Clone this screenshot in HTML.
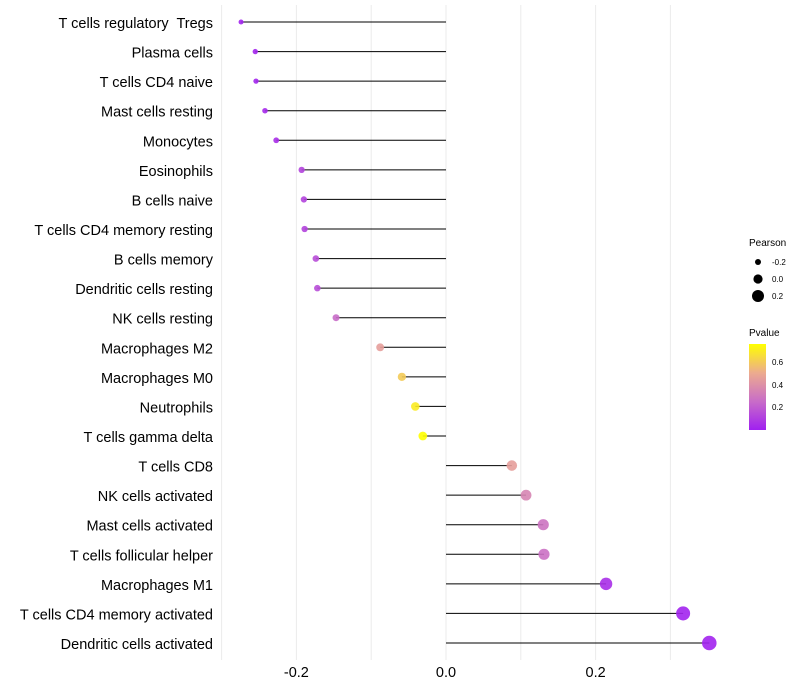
<!DOCTYPE html>
<html><head><meta charset="utf-8"><style>
body{margin:0;background:#fff;font-family:"Liberation Sans",sans-serif}
svg{display:block}
text{white-space:pre}
</style></head><body>
<svg id="chart" width="800" height="700" xmlns="http://www.w3.org/2000/svg">
<defs>
<linearGradient id="pg" x1="0" y1="1" x2="0" y2="0">
<stop offset="0" stop-color="#a020f0"/><stop offset="0.33" stop-color="#c86cc8"/><stop offset="0.66" stop-color="#ecaa90"/><stop offset="1" stop-color="#ffff00"/>
</linearGradient>
</defs>
<g id="grid"></g>
<g id="marks"></g>
<g id="ylabels"></g>
<g id="xlabels"></g>
<g font-size="10" fill="#000">
<text x="749" y="246">Pearson</text>
<circle cx="758" cy="262" r="3"/><text x="772" y="265" font-size="8">-0.2</text>
<circle cx="758" cy="279" r="4.6"/><text x="772" y="282" font-size="8">0.0</text>
<circle cx="758" cy="296" r="6"/><text x="772" y="299" font-size="8">0.2</text>
</g>
<g fill="#000">
<text x="749" y="336" font-size="10">Pvalue</text>
<rect x="749" y="344" width="17" height="86" fill="url(#pg)"/>
<text x="772" y="365" font-size="8">0.6</text>
<text x="772" y="388" font-size="8">0.4</text>
<text x="772" y="410" font-size="8">0.2</text>
</g>
</svg>
<script>
const categories=["T cells regulatory  Tregs","Plasma cells","T cells CD4 naive","Mast cells resting","Monocytes","Eosinophils","B cells naive","T cells CD4 memory resting","B cells memory","Dendritic cells resting","NK cells resting","Macrophages M2","Macrophages M0","Neutrophils","T cells gamma delta","T cells CD8","NK cells activated","Mast cells activated","T cells follicular helper","Macrophages M1","T cells CD4 memory activated","Dendritic cells activated"];
const pearson=[-0.274,-0.255,-0.254,-0.242,-0.227,-0.193,-0.190,-0.189,-0.174,-0.172,-0.147,-0.088,-0.059,-0.041,-0.031,0.088,0.107,0.130,0.131,0.214,0.317,0.352];
const pvalues=[0.01,0.02,0.02,0.03,0.05,0.12,0.12,0.12,0.15,0.15,0.25,0.45,0.6,0.7,0.76,0.45,0.35,0.28,0.27,0.05,0.01,0.01];
const xTicks=[-0.2,0.0,0.2];
const xTickLabels=["-0.2","0.0","0.2"];
const NS="http://www.w3.org/2000/svg";
const xs=v=>446+v*748;
const ys=i=>22+i*(621/21);
const rs=v=>4.6+v*7.6;
function col(p){
 const stops=[[0,[160,32,240]],[0.25,[200,108,200]],[0.5,[236,170,144]],[0.76,[255,255,0]]];
 p=Math.max(0,Math.min(0.76,p));
 for(let k=0;k<stops.length-1;k++){const a=stops[k],b=stops[k+1];
  if(p<=b[0]){const t=(p-a[0])/(b[0]-a[0]);return "rgb("+a[1].map((c,j)=>Math.round(c+(b[1][j]-c)*t)).join(",")+")";}}
 return "rgb(255,255,0)";
}
function mk(tag,attrs,parent){const e=document.createElementNS(NS,tag);for(const k in attrs)e.setAttribute(k,attrs[k]);parent.appendChild(e);return e;}
const grid=document.getElementById('grid');
[-0.3,-0.2,-0.1,0,0.1,0.2,0.3].forEach(v=>{
 const l=mk('line',{x1:xs(v),x2:xs(v),y1:5,y2:660,stroke:'#ebebeb','stroke-width':1},grid);
 
 
});
const marks=document.getElementById('marks'),yl=document.getElementById('ylabels'),xl=document.getElementById('xlabels');
categories.forEach((c,i)=>{
 const y=ys(i),v=pearson[i];
 const ln=mk('line',{x1:xs(0),x2:xs(v),y1:y,y2:y,stroke:'#000','stroke-width':1},marks);
 
 
 const ci=mk('circle',{cx:xs(v),cy:y,r:rs(v),fill:col(pvalues[i]),'fill-opacity':0.9},marks);
 
 
 const t=mk('text',{x:213,y:y+6,'text-anchor':'end','font-size':14.5,fill:'#000'},yl);
 t.textContent=c;
 
 
});
xTicks.forEach((v,i)=>{
 const t=mk('text',{x:xs(v),y:677,'text-anchor':'middle','font-size':14.5,fill:'#000'},xl);
 t.textContent=xTickLabels[i];
 
 
});
</script>
</body></html>
